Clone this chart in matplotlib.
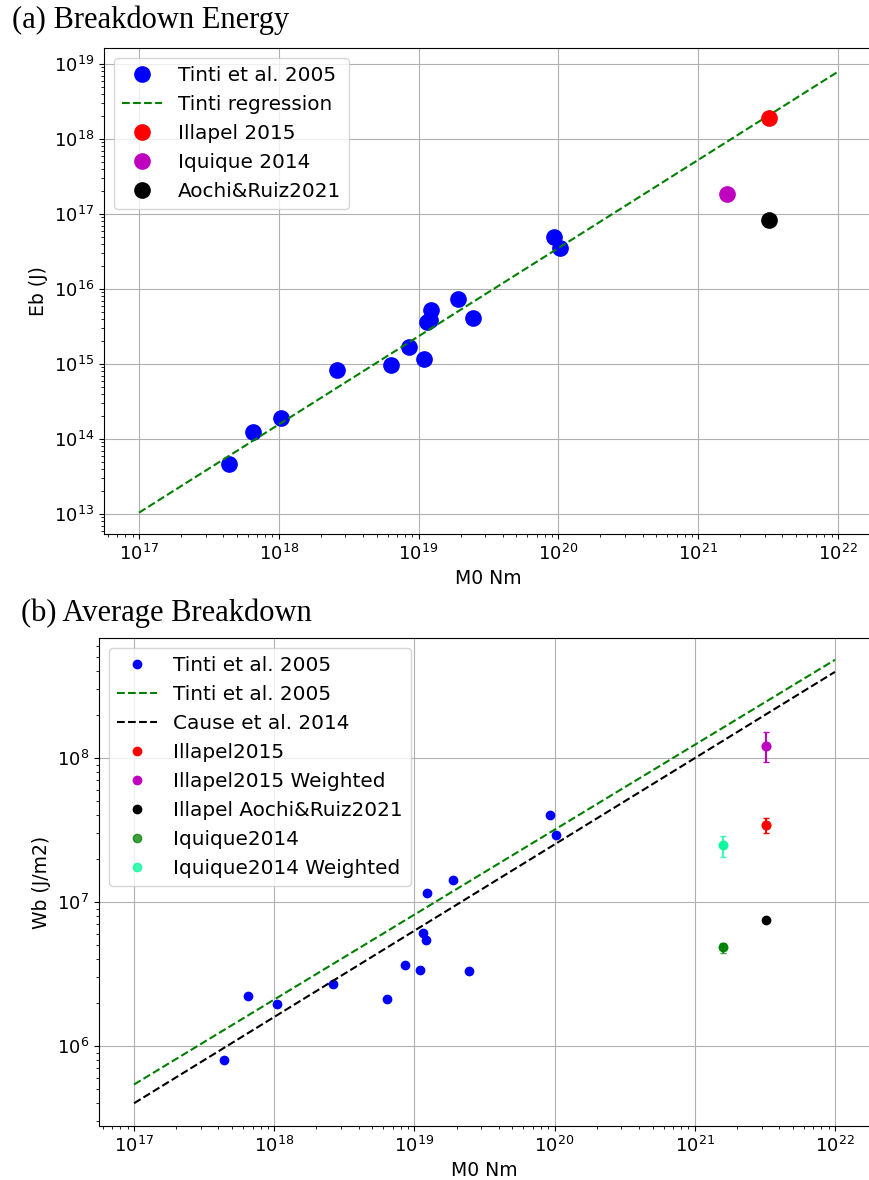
import numpy as np
import matplotlib
matplotlib.use("Agg")
import matplotlib.pyplot as plt

# ---------------- data ----------------
# Tinti et al. 2005 events (seismic moment, Nm)
tinti_m0 = [4.4e17, 6.5e17, 1.04e18, 2.63e18, 6.4e18, 8.6e18, 1.1e19,
            1.15e19, 1.2e19, 1.22e19, 1.9e19, 2.46e19, 9.3e19, 1.02e20]
# breakdown energy (J)
tinti_eb = [4.6e13, 1.24e14, 1.88e14, 8.4e14, 9.8e14, 1.66e15, 1.17e15,
            3.6e15, 3.9e15, 5.2e15, 7.3e15, 4.1e15, 4.9e16, 3.5e16]
# average breakdown work (J/m2)
tinti_wb = [8.0e5, 2.23e6, 1.94e6, 2.71e6, 2.12e6, 3.66e6, 3.37e6,
            6.07e6, 5.46e6, 1.15e7, 1.43e7, 3.32e6, 4.04e7, 2.92e7]

# regression lines (end points)
reg_m0 = [1e17, 1e22]
tinti_reg_eb = [1.04e13, 7.9e18]
tinti_reg_wb = [5.4e5, 4.8e8]
cause_reg_wb = [4.0e5, 3.96e8]

# Chilean events
illapel_m0 = 3.2e21
iquique_m0 = 1.6e21
illapel_eb = 1.89e18
iquique_eb = 1.84e17
aochi_eb = 8.4e16

illapel_wb, illapel_wb_err = 3.44e7, 4.1e6
illapel_w_wb, illapel_w_wb_err = 1.22e8, 2.9e7
aochi_wb = 7.52e6
iquique_wb, iquique_wb_err = 4.83e6, 3.8e5
iquique_w_wb, iquique_w_wb_err = 2.47e7, 4.1e6

# ---------------- figure ----------------
W, H = 869, 1180
fig = plt.figure(figsize=(W / 100, H / 100), dpi=100)

TICK = 13
LAB = 13.5
LEG = 14.4

# ---- (a) ----
ax1 = fig.add_axes([104 / W, 1 - 534 / H, 769 / W, 486 / H])
ax1.plot(tinti_m0, tinti_eb, 'o', color='blue', markersize=11,
         label='Tinti et al. 2005')
ax1.plot(reg_m0, tinti_reg_eb, '--', color='green', lw=1.5,
         label='Tinti regression')
ax1.plot([illapel_m0], [illapel_eb], 'o', color='red', markersize=11,
         label='Illapel 2015')
ax1.plot([iquique_m0], [iquique_eb], 'o', color='m', markersize=11,
         label='Iquique 2014')
ax1.plot([illapel_m0], [aochi_eb], 'o', color='black', markersize=11,
         label='Aochi&Ruiz2021')
ax1.set_xscale('log')
ax1.set_yscale('log')
ax1.set_xlim(10 ** 16.75, 10 ** 22.25)
ax1.set_ylim(10 ** 12.733, 10 ** 19.213)
ax1.grid(True)
ax1.set_xlabel('M0 Nm', fontsize=LAB)
ax1.set_ylabel('Eb (J)', fontsize=LAB)
ax1.tick_params(labelsize=TICK)
ax1.legend(loc='upper left', fontsize=LEG)

# ---- (b) ----
ax2 = fig.add_axes([99 / W, 1 - 1126 / H, 771 / W, 488 / H])
ax2.plot(tinti_m0, tinti_wb, 'o', color='blue', markersize=6,
         label='Tinti et al. 2005')
ax2.plot(reg_m0, tinti_reg_wb, '--', color='green', lw=1.5,
         label='Tinti et al. 2005')
ax2.plot(reg_m0, cause_reg_wb, '--', color='black', lw=1.5,
         label='Cause et al. 2014')

ax2.errorbar([illapel_m0], [illapel_wb], yerr=[illapel_wb_err], fmt='o',
             color='red', markersize=6, capsize=2.5)
ax2.plot([illapel_m0], [illapel_wb], 'o', color='red', markersize=6,
         label='Illapel2015')
ax2.errorbar([illapel_m0], [illapel_w_wb], yerr=[illapel_w_wb_err], fmt='o',
             color='m', markersize=6, capsize=2.5)
ax2.plot([illapel_m0], [illapel_w_wb], 'o', color='m', markersize=6,
         label='Illapel2015 Weighted')
ax2.plot([illapel_m0], [aochi_wb], 'o', color='black', markersize=6,
         label='Illapel Aochi&Ruiz2021')
ax2.errorbar([iquique_m0], [iquique_wb], yerr=[iquique_wb_err], fmt='o',
             color='green', alpha=0.75, markersize=6, capsize=2.5)
ax2.plot([iquique_m0], [iquique_wb], 'o', color='green', alpha=0.75,
         markersize=6, label='Iquique2014')
ax2.errorbar([iquique_m0], [iquique_w_wb], yerr=[iquique_w_wb_err], fmt='o',
             color='mediumspringgreen', alpha=0.75, markersize=6, capsize=2.5)
ax2.plot([iquique_m0], [iquique_w_wb], 'o', color='mediumspringgreen',
         alpha=0.75, markersize=6, label='Iquique2014 Weighted')

ax2.set_xscale('log')
ax2.set_yscale('log')
ax2.set_xlim(10 ** 16.75, 10 ** 22.25)
ax2.set_ylim(10 ** 5.444, 10 ** 8.833)
ax2.grid(True)
ax2.set_xlabel('M0 Nm', fontsize=LAB)
ax2.set_ylabel('Wb (J/m2)', fontsize=LAB)
ax2.tick_params(labelsize=TICK)
ax2.legend(loc='upper left', fontsize=LEG)

# panel titles
fig.text(12 / W, 1 - 28 / H, '(a) Breakdown Energy',
         family='Liberation Serif', fontsize=22, va='baseline', ha='left')
fig.text(21 / W, 1 - 621 / H, '(b) Average Breakdown',
         family='Liberation Serif', fontsize=22, va='baseline', ha='left')

fig.savefig('out.png', dpi=100)
